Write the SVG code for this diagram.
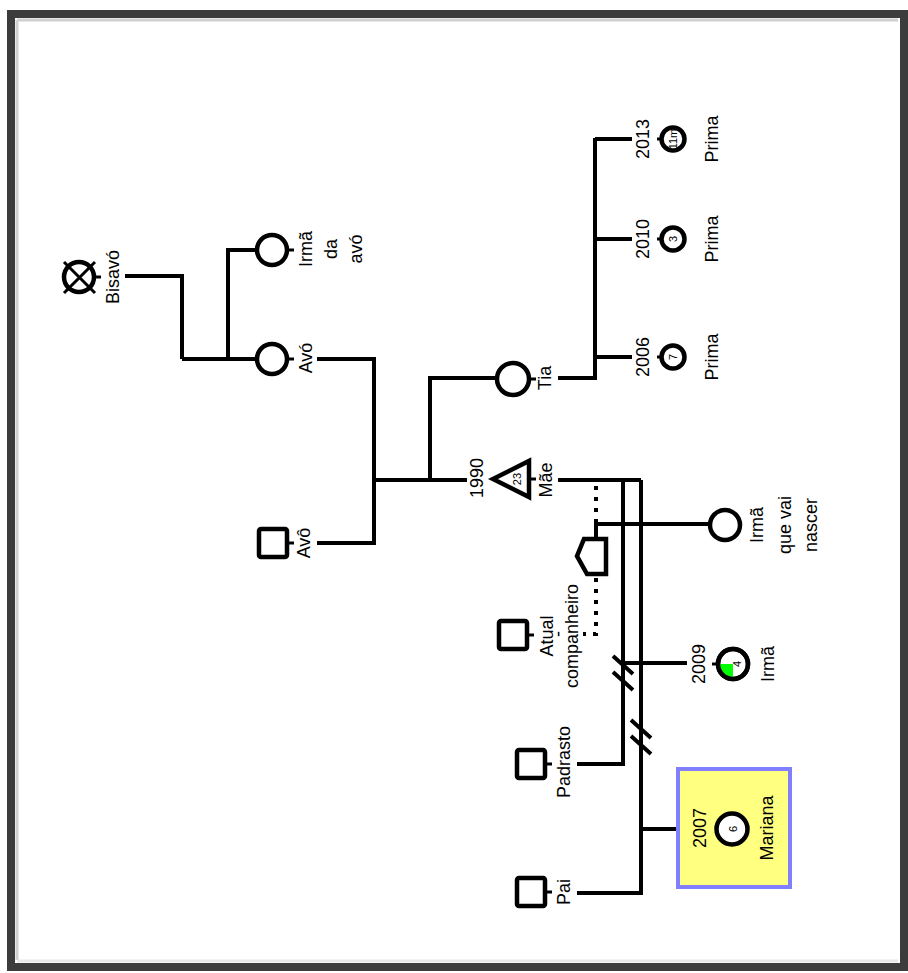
<svg xmlns="http://www.w3.org/2000/svg" width="908" height="973" viewBox="0 0 908 973">
<style>
.ln{stroke:#000;stroke-width:4;fill:none;stroke-linecap:butt}
.dot{stroke:#000;stroke-width:4;fill:none;stroke-dasharray:4 7}
.sym{stroke:#000;stroke-width:4.5;fill:#fff}
.tk{stroke:#000;stroke-width:3;fill:none}
.lbl{font-family:"Liberation Sans",Arial,sans-serif;font-size:18px;fill:#000;text-anchor:middle;dominant-baseline:central}
.num{font-family:"Liberation Sans",Arial,sans-serif;font-size:11px;fill:#000;text-anchor:middle;dominant-baseline:central}
</style>
<rect x="0" y="0" width="908" height="973" fill="#fff"/>
<g id="frame">
<line x1="17" y1="20" x2="17" y2="960" stroke="#d0d0d0" stroke-width="3"/>
<line x1="17" y1="20" x2="898" y2="20" stroke="#d0d0d0" stroke-width="3"/>
<line x1="17" y1="961" x2="898" y2="961" stroke="#e8e8e8" stroke-width="3"/>
<rect x="11" y="14" width="893" height="953" fill="none" stroke="#3c3c3c" stroke-width="8"/>
</g>
<g id="connectors">
<path class="ln" d="M125,276 H182 V359 M182,359 H257 M228,359 V250 H257"/>
<path class="ln" d="M317,359 H374 V543 H317"/>
<path class="ln" d="M374,480 H467 M430,480 V378 H496"/>
<path class="ln" d="M558,378 H595 V138 M595,139 H632 M595,239 H632 M595,357 H632"/>
<path class="ln" d="M558,480 H641 M623,480 V764 H577 M641,480 V893 H577"/>
<path class="dot" d="M596,486 V524 M596,578 V634 H583"/>
<path class="ln" d="M596,522 V539"/>
<path class="ln" d="M597,524 H709"/>
<path class="ln" d="M623,663 H687"/>
<path class="ln" d="M641,829 H676"/>
<path class="ln" d="M613,656 L633,674 M613,672 L633,690"/>
<path class="ln" d="M631,720 L651,738 M631,736 L651,754"/>
</g>
<g id="bisavo">
<circle class="sym" cx="79" cy="277" r="15"/>
<path class="tk" d="M64,262 L95,293 M95,262 L64,293 M94,277 H101"/>
<text class="lbl" x="113" y="277" transform="rotate(-90 113 277)">Bisavó</text>
</g>
<g id="irma-da-avo">
<circle class="sym" cx="272" cy="250" r="15"/>
<path class="tk" d="M287,250 H294"/>
<text class="lbl" x="306" y="249" transform="rotate(-90 306 249)">Irmã</text>
<text class="lbl" x="331" y="249" transform="rotate(-90 331 249)">da</text>
<text class="lbl" x="356" y="249" transform="rotate(-90 356 249)">avó</text>
</g>
<g id="avo-f">
<circle class="sym" cx="272" cy="359" r="15"/>
<path class="tk" d="M287,359 H294"/>
<text class="lbl" x="306" y="358" transform="rotate(-90 306 358)">Avó</text>
</g>
<g id="avo-m">
<rect class="sym" x="259" y="529" width="28" height="28" rx="2"/>
<path class="tk" d="M287,543 H294"/>
<text class="lbl" x="304" y="543" transform="rotate(-90 304 543)">Avô</text>
</g>
<g id="tia">
<circle class="sym" cx="513" cy="379" r="16"/>
<path class="tk" d="M529,379 H536"/>
<text class="lbl" x="545" y="378" transform="rotate(-90 545 378)">Tia</text>
</g>
<g id="prima-2013">
<circle class="sym" cx="673" cy="139" r="11.5"/>
<path class="tk" d="M657,139 H662"/>
<text class="num" x="673" y="139" font-size="9" transform="rotate(-90 673 139)">11m</text>
<text class="lbl" x="643" y="139" transform="rotate(-90 643 139)">2013</text>
<text class="lbl" x="712" y="139" transform="rotate(-90 712 139)">Prima</text>
</g>
<g id="prima-2010">
<circle class="sym" cx="673" cy="239" r="11.5"/>
<path class="tk" d="M657,239 H662"/>
<text class="num" x="673" y="239" transform="rotate(-90 673 239)">3</text>
<text class="lbl" x="643" y="239" transform="rotate(-90 643 239)">2010</text>
<text class="lbl" x="712" y="239" transform="rotate(-90 712 239)">Prima</text>
</g>
<g id="prima-2006">
<circle class="sym" cx="673" cy="357" r="11.5"/>
<path class="tk" d="M657,357 H662"/>
<text class="num" x="673" y="357" transform="rotate(-90 673 357)">7</text>
<text class="lbl" x="643" y="357" transform="rotate(-90 643 357)">2006</text>
<text class="lbl" x="712" y="357" transform="rotate(-90 712 357)">Prima</text>
</g>
<g id="mae">
<polygon class="sym" points="493,479 529,461 529,497" stroke-linejoin="miter"/>
<path class="tk" d="M531,479 H536"/>
<text class="num" x="517" y="479" font-size="10" transform="rotate(-90 517 479)">23</text>
<text class="lbl" x="477" y="478" transform="rotate(-90 477 478)">1990</text>
<text class="lbl" x="546" y="480" transform="rotate(-90 546 480)">Mãe</text>
</g>
<g id="gravidez">
<polygon class="sym" points="606,539 584,539 577,556 587,574 606,574"/>
</g>
<g id="irma-que-vai-nascer">
<circle class="sym" cx="725" cy="525" r="15"/>
<text class="lbl" x="757" y="525" transform="rotate(-90 757 525)">Irmã</text>
<text class="lbl" x="785" y="525" transform="rotate(-90 785 525)">que vai</text>
<text class="lbl" x="811" y="525" transform="rotate(-90 811 525)">nascer</text>
</g>
<g id="atual-companheiro">
<rect class="sym" x="499" y="621" width="28" height="28" rx="2"/>
<path class="tk" d="M527,635 H534"/>
<text class="lbl" x="547" y="636" transform="rotate(-90 547 636)">Atual</text>
<text class="lbl" x="558" y="634" font-size="14" transform="rotate(-90 558 634)">-</text>
<text class="lbl" x="572" y="636" transform="rotate(-90 572 636)">companheiro</text>
</g>
<g id="irma-2009">
<circle class="sym" cx="733" cy="664" r="15"/>
<path d="M733,664 L720,664 A13,13 0 0 0 733,677 Z" fill="#00ff00"/>
<circle cx="733" cy="664" r="15" fill="none" stroke="#000" stroke-width="4.5"/>
<path class="tk" d="M712,664 H718"/>
<text class="num" x="737" y="664" transform="rotate(-90 737 664)">4</text>
<text class="lbl" x="699" y="664" transform="rotate(-90 699 664)">2009</text>
<text class="lbl" x="768" y="664" transform="rotate(-90 768 664)">Irmã</text>
</g>
<g id="padrasto">
<rect class="sym" x="517" y="750" width="28" height="28" rx="2"/>
<path class="tk" d="M545,764 H552"/>
<text class="lbl" x="564" y="762" transform="rotate(-90 564 762)">Padrasto</text>
</g>
<g id="pai">
<rect class="sym" x="517" y="878" width="28" height="28" rx="2"/>
<path class="tk" d="M545,892 H552"/>
<text class="lbl" x="564" y="892" transform="rotate(-90 564 892)">Pai</text>
</g>
<g id="mariana">
<rect x="678" y="769" width="112" height="118" fill="#ffff80" stroke="#7f7fff" stroke-width="4"/>
<circle class="sym" cx="732" cy="829" r="15.5"/>
<text class="num" x="733" y="829" transform="rotate(-90 733 829)">6</text>
<text class="lbl" x="700" y="828" transform="rotate(-90 700 828)">2007</text>
<text class="lbl" x="767" y="828" transform="rotate(-90 767 828)">Mariana</text>
</g>
</svg>
